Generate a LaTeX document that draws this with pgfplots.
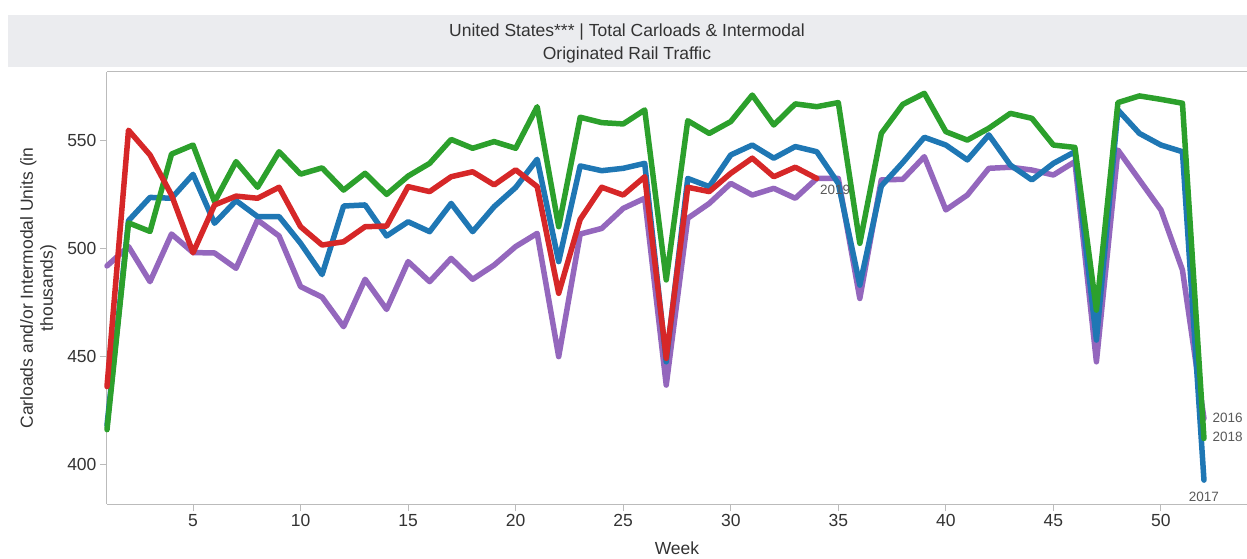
\documentclass[border=0pt]{standalone}
\usepackage{pgfplots}
\pgfplotsset{compat=1.18}
\usepackage{pgfplotstable}
\usepackage{fontspec}
\setmainfont{Liberation Sans}
\definecolor{c16}{HTML}{9467BD}
\definecolor{c17}{HTML}{1F77B4}
\definecolor{c18}{HTML}{2CA02C}
\definecolor{c19}{HTML}{D62728}
\definecolor{band}{HTML}{EBECEF}
\definecolor{txt}{HTML}{333333}
\definecolor{axgray}{HTML}{BBBBBB}
\pgfplotstableread{
week y16 y17 y18 y19
1 492.0 418.0 416.0 436.0
2 501.0 513.0 512.0 555.0
3 484.7 523.8 508.0 543.5
4 506.8 523.4 543.9 524.9
5 498.2 534.5 548.1 498.1
6 498.0 511.8 521.8 520.3
7 490.9 522.3 540.4 524.4
8 513.3 514.9 528.5 523.4
9 505.9 514.9 545.0 528.5
10 482.4 502.5 534.6 510.2
11 477.5 488.0 537.5 501.7
12 463.8 519.8 527.2 503.2
13 485.8 520.3 535.0 510.2
14 471.8 505.9 525.2 510.5
15 494.0 512.5 533.7 528.8
16 484.7 507.9 539.6 526.5
17 495.5 521.0 550.7 533.4
18 485.8 507.9 546.6 535.7
19 492.4 519.5 549.7 529.6
20 501.0 528.4 546.6 536.6
21 507.1 541.5 565.9 528.8
22 449.9 494.0 510.2 479.3
23 506.8 538.4 561.0 513.6
24 509.4 536.2 558.5 528.5
25 518.7 537.3 557.9 524.9
26 523.4 539.6 564.4 533.4
27 436.7 447.5 485.5 449.1
28 514.1 532.6 559.4 528.5
29 521.0 528.8 553.5 526.5
30 530.3 543.5 559.0 535.0
31 524.9 548.1 571.3 542.0
32 528.0 542.0 557.4 533.4
33 523.4 547.4 567.2 537.8
34 532.6 545.0 565.9 532.6
35 532.6 530.3 567.8 nan
36 476.9 483.1 502.5 nan
37 531.9 529.1 553.5 nan
38 532.2 540.0 567.0 nan
39 542.7 551.7 572.1 nan
40 518.0 548.1 554.3 nan
41 524.9 541.2 550.4 nan
42 537.3 552.8 555.9 nan
43 537.8 538.8 562.8 nan
44 536.5 531.9 560.5 nan
45 534.2 539.6 548.1 nan
46 540.4 545.0 547.0 nan
47 447.5 457.6 471.5 nan
48 545.8 564.4 567.8 nan
49 531.9 553.5 570.9 nan
50 518.0 548.1 569.3 nan
51 490.1 545.0 567.5 nan
52 421.2 392.6 411.9 nan
}\rail
\begin{document}
\begin{tikzpicture}
\useasboundingbox (-107pt,-54pt) rectangle (1140pt,504pt);
\fill[band] (-99pt,437pt) rectangle (1140pt,489pt);
\node[align=center, text=txt, font=\fontsize{17.5}{23}\selectfont] at (520pt,461pt)
  {United States*** | Total Carloads \& Intermodal\\Originated Rail Traffic};
\begin{axis}[
  at={(0pt,0pt)}, anchor=south west,
  scale only axis, width=1140pt, height=432pt,
  xmin=1, xmax=54, ymin=381.5, ymax=582,
  axis lines*=left,
  axis line style={axgray, line width=1pt},
  xtick={5,10,...,50}, ytick={400,450,500,550},
  tick align=outside, major tick length=7pt,
  tick style={axgray, line width=1pt},
  /pgf/number format/assume math mode=true,
  ticklabel style={text=txt, font=\fontsize{17.5}{20}\selectfont},
  xlabel={Week}, ylabel={Carloads and/or Intermodal Units (in\\thousands)},
  label style={text=txt, font=\fontsize{17.5}{20}\selectfont},
  ylabel style={align=center, yshift=4pt},
  xlabel style={yshift=-8pt},
  clip=false,
  every axis plot/.append style={line width=5.5pt, line join=round, line cap=round},
]
\addplot[c16] table[x=week, y=y16] {\rail};
\addplot[c17] table[x=week, y=y17] {\rail};
\addplot[c18] table[x=week, y=y18] {\rail};
\addplot[c19, unbounded coords=discard] table[x=week, y=y19] {\rail};
\draw[axgray, line width=1pt] (rel axis cs:0,1) -- (rel axis cs:1,1);
\node[anchor=north west, text=black!65, font=\fontsize{13.5}{15}\selectfont, inner sep=1pt] at (axis cs:34.1,530) {2019};
\node[anchor=west, text=black!65, font=\fontsize{13.5}{15}\selectfont, inner sep=1pt] at (axis cs:52.35,421.5) {2016};
\node[anchor=west, text=black!65, font=\fontsize{13.5}{15}\selectfont, inner sep=1pt] at (axis cs:52.35,412.5) {2018};
\node[anchor=north, text=black!65, font=\fontsize{13.5}{15}\selectfont, inner sep=1pt] at (axis cs:52,387.5) {2017};
\end{axis}
\end{tikzpicture}
\end{document}
